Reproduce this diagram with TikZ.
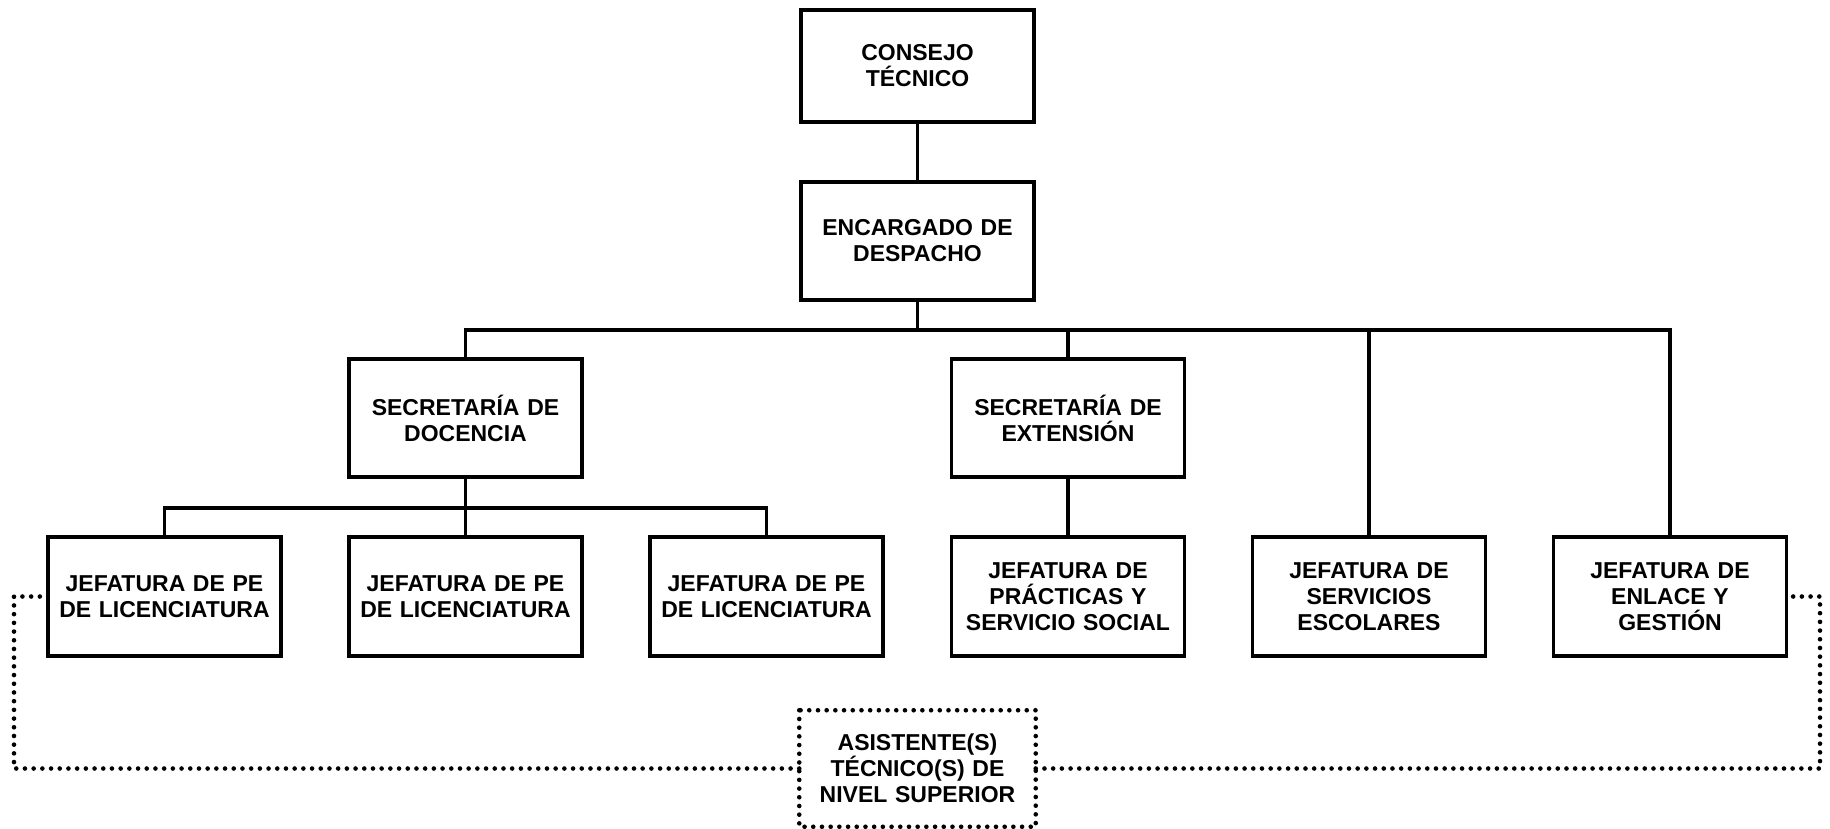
\documentclass[tikz,border=0pt]{standalone}
\usepackage{fontspec}
\setmainfont{Liberation Sans}
\begin{document}
\begin{tikzpicture}[x=1pt,y=-1pt,
  box/.style={draw, line width=3.5pt, minimum width=233pt, text width=225pt, align=center,
    font=\fontsize{23}{26}\selectfont\bfseries, inner sep=0pt},
  conn/.style={line width=3.5pt},
  dotline/.style={line width=4.6pt, line cap=round, dash pattern=on 0pt off 8.7pt}]
\useasboundingbox (0,0) rectangle (1830,828);
\node[box, minimum height=112pt] (cons) at (917.5,66) {CONSEJO\\TÉCNICO};
\node[box, minimum height=118pt] (enc) at (917.5,241) {ENCARGADO DE\\DESPACHO};
\node[box, minimum height=118pt] (sd) at (465.5,418) {SECRETARÍA DE\\DOCENCIA};
\node[box, minimum height=118pt] (se) at (1068,418) {SECRETARÍA DE\\EXTENSIÓN};
\node[box, minimum height=119pt] (j1) at (164.5,596.5) {JEFATURA DE PE\\DE LICENCIATURA};
\node[box, minimum height=119pt] (j2) at (465.5,596.5) {JEFATURA DE PE\\DE LICENCIATURA};
\node[box, minimum height=119pt] (j3) at (766.5,596.5) {JEFATURA DE PE\\DE LICENCIATURA};
\node[box, minimum height=119pt] (j4) at (1068,596.5) {JEFATURA DE\\PRÁCTICAS Y\\SERVICIO SOCIAL};
\node[box, minimum height=119pt] (j5) at (1369,596.5) {JEFATURA DE\\SERVICIOS\\ESCOLARES};
\node[box, minimum height=119pt] (j6) at (1670,596.5) {JEFATURA DE\\ENLACE Y\\GESTIÓN};
\node[box, draw=none, minimum height=113pt] (asis) at (917.5,768.5) {ASISTENTE(S)\\TÉCNICO(S) DE\\NIVEL SUPERIOR};
\draw[dotline] (asis.north west) rectangle (asis.south east);
\coordinate (b1) at (917.5,330);
\coordinate (b2) at (465.5,508);
\coordinate (dl) at (14,769);
\coordinate (dr) at (1820,769);
\draw[conn] (cons) -- (enc);
\draw[conn] (enc.south) -- (b1);
\draw[conn] (sd.north) |- (j6.north |- b1) -- (j6.north);
\draw[conn] (se.north) -- (se.north |- b1);
\draw[conn] (j5.north) -- (j5.north |- b1);
\draw[conn] (se) -- (j4);
\draw[conn] (sd) -- (j2);
\draw[conn] (j1.north) |- (j3.north |- b2) -- (j3.north);
\draw[dotline] (asis.west) -- (asis.west -| dl) |- (j1.west);
\draw[dotline] (asis.east) -- (asis.east -| dr) |- (j6.east);
\end{tikzpicture}
\end{document}
